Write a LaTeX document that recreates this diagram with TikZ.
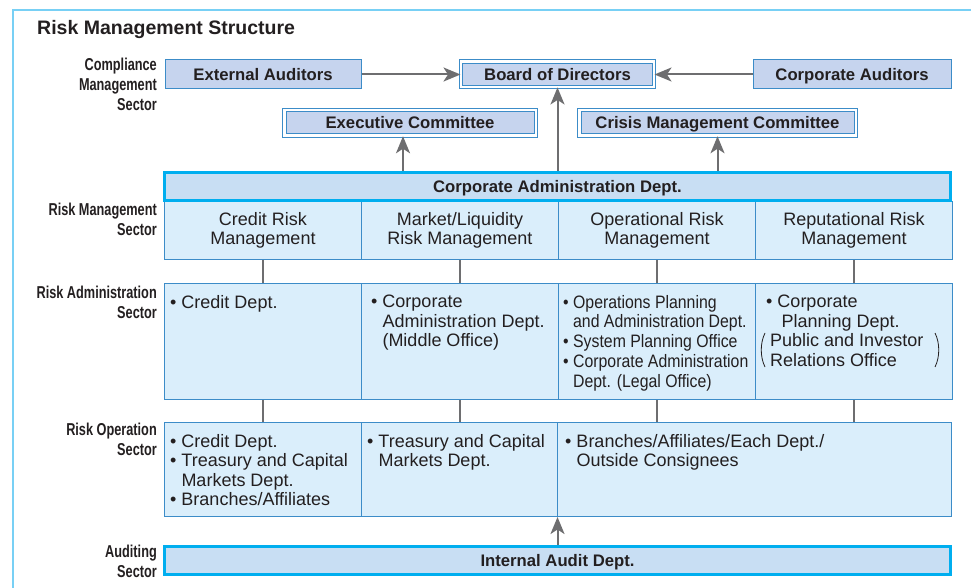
\documentclass[tikz,border=0pt]{standalone}
\usepackage{fontspec}
\setmainfont{Liberation Sans}
\newfontfamily\sectorfont[FakeStretch=0.74]{Liberation Sans}
\newfontfamily\narrowfont[FakeStretch=0.88]{Liberation Sans}
\usetikzlibrary{positioning, arrows.meta}

\newcommand{\ind}{\hphantom{\textbullet\ }}

\begin{document}
\begin{tikzpicture}[
    x=1pt, y=-1pt,
    topbox/.style={draw=boxline, line width=1pt, fill=boxfill, minimum height=29pt, inner sep=0pt, text height=12pt, text depth=0pt, text=inkdark, font=\bfseries\fontsize{16.7}{20}\selectfont},
    dblbox/.style={draw=boxline, line width=1pt, double=white, double distance=2.5pt, fill=boxfill, minimum height=25.5pt, inner sep=0pt, text height=12pt, text depth=0pt, text=inkdark, font=\bfseries\fontsize{16.7}{20}\selectfont},
    barbox/.style={draw=barcyan, line width=3pt, fill=barfill, minimum width=786pt, minimum height=28pt, inner sep=0pt, text height=12pt, text depth=0pt, text=inkdark, font=\bfseries\fontsize{16.7}{20}\selectfont},
    cell/.style={draw=boxline, line width=1pt, fill=cellfill, anchor=north west, inner sep=0pt, align=center, text=inkdark, font=\fontsize{18}{19.5}\selectfont},
    items/.style={anchor=north west, align=left, inner sep=0pt, text=inkdark, font=\fontsize{18}{19.5}\selectfont},
    sector/.style={anchor=east, align=right, inner sep=0pt, text=inkdark, font=\sectorfont\bfseries\fontsize{17.2}{19.8}\selectfont},
    link/.style={draw=arrowgray, line width=2pt},
    arrowlink/.style={link, -{Stealth[length=17pt, width=14pt, inset=4.5pt]}}
]

    % Define colors
    \definecolor{inkdark}{RGB}{35, 31, 32}
    \definecolor{boxline}{RGB}{60, 140, 200}
    \definecolor{boxfill}{RGB}{198, 212, 238}
    \definecolor{barcyan}{RGB}{0, 174, 239}
    \definecolor{barfill}{RGB}{200, 222, 243}
    \definecolor{cellfill}{RGB}{218, 238, 251}
    \definecolor{arrowgray}{RGB}{110, 110, 112}
    \definecolor{framecyan}{RGB}{120, 208, 245}

    \useasboundingbox (0,0) rectangle (971,588);

    % Frame and title
    \draw[framecyan, line width=1.5pt] (13,588) -- (13,10) -- (971,10);
    \node[anchor=base west, inner sep=0pt, text=inkdark, font=\bfseries\fontsize{19.5}{23}\selectfont] (title) at (37,34.5) {Risk Management Structure};

    % Sector labels
    \node[sector] (compsec) at (157, 84.5) {Compliance\\Management\\Sector};
    \node[sector] (rmsec) at (157, 219) {Risk Management\\Sector};
    \node[sector] (rasec) at (157, 302) {Risk Administration\\Sector};
    \node[sector] (rosec) at (157, 439) {Risk Operation\\Sector};
    \node[sector] (ausec) at (157, 561) {Auditing\\Sector};

    % Compliance management boxes
    \node[topbox, minimum width=196pt] (extaud) at (263, 74.5) {External Auditors};
    \node[dblbox, minimum width=193pt] (board) at (557.5, 74.2) {Board of Directors};
    \node[topbox, minimum width=198pt] (corpaud) at (852, 74.5) {Corporate Auditors};
    \node[dblbox, minimum width=251.5pt] (exec) at (410, 123) {Executive Committee};
    \node[dblbox, minimum width=276.5pt] (crisis) at (717.5, 123) {Crisis Management Committee};

    % Risk management row
    \foreach \i/\txt in {1/{Credit Risk\\Management}, 2/{Market/Liquidity\\Risk Management}, 3/{Operational Risk\\Management}, 4/{Reputational Risk\\Management}}
        \node[cell, minimum width=197pt, minimum height=58pt] (rm\i) at ({164+197*(\i-1)}, 201) {\txt};
    \node[barbox] (corpadm) at (557.5, 186.5) {Corporate Administration Dept.};

    % Risk administration row
    \foreach \i in {1,...,4}
        \node[cell, minimum width=197pt, minimum height=116pt] (ra\i) at ({164+197*(\i-1)}, 283) {};
    \node[items] (ra1txt) at (170, 295) {\textbullet\ Credit Dept.};
    \node[items] (ra2txt) at (371, 295) {\textbullet\ Corporate\\\ind Administration Dept.\\\ind (Middle Office)};
    \node[items, font=\narrowfont\fontsize{18}{19.7}\selectfont] (ra3txt) at (563, 295) {\textbullet\ Operations Planning\\\ind and Administration Dept.\\\textbullet\ System Planning Office\\\textbullet\ Corporate Administration\\\ind Dept. (Legal Office)};
    \node[items] (ra4txt) at (766, 295) {\textbullet\ Corporate\\\ind\hspace*{4pt}Planning Dept.\\\hspace*{4pt}Public and Investor\\\hspace*{4pt}Relations Office};
    \draw[inkdark, line width=0.8pt] (765,333) .. controls (760,343) and (760,357) .. (765,367);
    \draw[inkdark, line width=0.8pt] (935,333) .. controls (940,343) and (940,357) .. (935,367);

    % Risk operation row
    \node[cell, minimum width=197pt, minimum height=94pt] (ro1) at (164, 422) {};
    \node[cell, minimum width=196pt, minimum height=94pt] (ro2) at (361, 422) {};
    \node[cell, minimum width=394pt, minimum height=94pt] (ro3) at (557, 422) {};
    \node[items] (ro1txt) at (170, 434) {\textbullet\ Credit Dept.\\\textbullet\ Treasury and Capital\\\ind Markets Dept.\\\textbullet\ Branches/Affiliates};
    \node[items] (ro2txt) at (367, 434) {\textbullet\ Treasury and Capital\\\ind Markets Dept.};
    \node[items] (ro3txt) at (565, 434) {\textbullet\ Branches/Affiliates/Each Dept./\\\ind Outside Consignees};

    % Auditing
    \node[barbox] (audit) at (557.5, 560.5) {Internal Audit Dept.};

    % Connectors
    \foreach \i in {1,...,4} {
        \draw[link] (rm\i.south) -- (ra\i.north);
        \draw[link] (ra\i.south) -- (ra\i.south |- ro1.north);
    }
    \draw[arrowlink] (extaud.east) -- (extaud.east -| board.west);
    \draw[arrowlink] (corpaud.west) -- (corpaud.west -| board.east);
    \draw[arrowlink] (corpadm.north) -- (board.south);
    \draw[arrowlink] ([xshift=-7pt]exec.south |- corpadm.north) -- ([xshift=-7pt]exec.south);
    \draw[arrowlink] (crisis.south |- corpadm.north) -- (crisis.south);
    \draw[arrowlink] (audit.north) -- (audit.north |- ro3.south);

\end{tikzpicture}
\end{document}
